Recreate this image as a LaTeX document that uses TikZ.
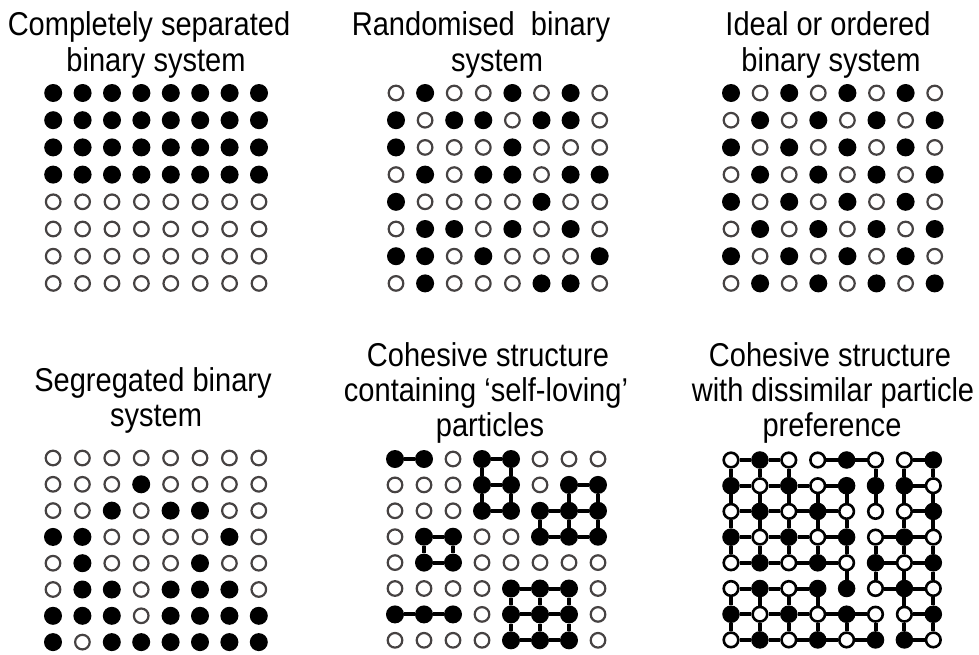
\documentclass[tikz,border=0pt]{standalone}
\usepackage{fontspec}
\setmainfont{Liberation Sans}[FakeStretch=0.88]
\definecolor{ringgray}{RGB}{70,66,66}
\tikzset{
  s1/.style={circle,fill=black,inner sep=0pt,minimum size=18pt},
  s0/.style={circle,draw=ringgray,fill=white,line width=2.2pt,inner sep=0pt,minimum size=14.6pt},
  t1/.style={circle,fill=black,draw=black,line width=1pt,inner sep=0pt,minimum size=16.5pt},
  t0/.style={circle,draw=black,fill=white,line width=2.6pt,inner sep=0pt,minimum size=14.6pt},
  bond/.style={line width=4pt,black},
  ttl/.style={anchor=base,inner sep=0pt,font=\fontsize{33}{35}\selectfont},
}
\newcommand\mygrid[7]{%
  \foreach \rowv [count=\r from 0] in {#7} {
    \foreach \v [count=\c from 0] in \rowv {
      \node[#6\v] (#1-\r-\c) at ({#2+\c*#4},{#3+\r*#5}) {};
    }
  }
}
\begin{document}
\begin{tikzpicture}[x=1pt,y=-1pt]
\useasboundingbox[fill=white] (0,0) rectangle (979,654);

% titles
\node[ttl] (ta1) at (149,35) {Completely separated};
\node[ttl] (ta2) at (156,71) {binary system};
\node[ttl] (tb1) at (481,35) {Randomised\ \ binary};
\node[ttl] (tb2) at (497,71) {system};
\node[ttl] (tc1) at (828,35) {Ideal or ordered};
\node[ttl] (tc2) at (831,71) {binary system};
\node[ttl] (td1) at (153,391) {Segregated binary};
\node[ttl] (td2) at (156,426) {system};
\node[ttl] (te1) at (488,366) {Cohesive structure};
\node[ttl] (te2) at (486,401) {containing ‘self-loving’};
\node[ttl] (te3) at (490,436) {particles};
\node[ttl] (tf1) at (830,366) {Cohesive structure};
\node[ttl] (tf2) at (833,401) {with dissimilar particle};
\node[ttl] (tf3) at (832,436) {preference};

% panel 1
\mygrid{a}{53.2}{93}{29.4}{27.2}{s}{{1,1,1,1,1,1,1,1},{1,1,1,1,1,1,1,1},{1,1,1,1,1,1,1,1},{1,1,1,1,1,1,1,1},{0,0,0,0,0,0,0,0},{0,0,0,0,0,0,0,0},{0,0,0,0,0,0,0,0},{0,0,0,0,0,0,0,0}}
% panel 2
\mygrid{b}{396}{93}{29.1}{27.2}{s}{{0,1,0,0,1,0,1,0},{1,0,1,1,0,1,1,0},{1,0,0,0,1,0,0,0},{0,1,0,1,1,0,1,1},{1,0,0,0,0,1,0,0},{0,1,1,0,1,0,1,0},{1,1,0,1,0,0,0,1},{0,1,0,0,0,1,1,0}}
% panel 3
\mygrid{c}{731}{93}{29.1}{27.2}{s}{{1,0,1,0,1,0,1,0},{0,1,0,1,0,1,0,1},{1,0,1,0,1,0,1,0},{0,1,0,1,0,1,0,1},{1,0,1,0,1,0,1,0},{0,1,0,1,0,1,0,1},{1,0,1,0,1,0,1,0},{0,1,0,1,0,1,0,1}}
% panel 4
\mygrid{d}{53}{458}{29.4}{26.3}{s}{{0,0,0,0,0,0,0,0},{0,0,0,1,0,0,0,0},{0,0,1,0,1,1,0,0},{1,1,0,0,0,0,1,0},{0,1,0,0,0,1,0,0},{0,1,1,0,1,1,1,0},{1,1,1,0,1,1,1,1},{1,0,1,1,1,1,1,1}}
% panel 5
\mygrid{e}{395}{459}{29.0}{25.9}{s}{{1,1,0,1,1,0,0,0},{0,0,0,1,1,0,1,1},{0,0,0,1,1,1,1,1},{0,1,1,0,0,1,1,1},{0,1,1,0,0,0,0,0},{0,0,0,0,1,1,1,0},{1,1,1,0,1,1,1,0},{0,0,0,0,1,1,1,0}}
\foreach \r/\c in {0/0,0/3,1/3,2/3,1/6,2/5,2/6,3/5,3/6,3/1,4/1,6/0,6/1,5/4,5/5,6/4,6/5,7/4,7/5} {
  \pgfmathtruncatemacro\cn{\c+1}
  \draw[bond] (e-\r-\c) -- (e-\r-\cn);
}
\foreach \r/\c in {0/3,1/3,0/4,1/4,2/5,1/6,2/6,1/7,2/7,3/1,3/2,5/4,6/4,5/5,6/5,5/6,6/6} {
  \pgfmathtruncatemacro\rn{\r+1}
  \draw[bond] (e-\r-\c) -- (e-\rn-\c);
}
% panel 6
\mygrid{f}{731}{460}{28.9}{25.7}{t}{{0,1,0,0,1,0,0,1},{1,0,1,0,1,1,1,0},{0,1,0,1,0,0,0,1},{1,0,1,0,1,0,1,0},{0,1,0,1,0,1,0,1},{0,1,0,1,1,0,1,0},{1,0,1,0,1,0,0,1},{0,1,0,1,0,1,1,0}}
\foreach \r/\c in {0/0,0/1,0/3,0/4,0/6,1/0,1/1,1/2,1/3,1/6,2/0,2/1,2/2,2/3,2/6,3/0,3/1,3/2,3/3,3/5,3/6,4/0,4/1,4/2,4/3,4/5,4/6,5/0,5/1,5/2,5/5,5/6,6/0,6/1,6/2,6/3,6/4,6/6,7/0,7/1,7/2,7/3,7/4,7/6} {
  \pgfmathtruncatemacro\cn{\c+1}
  \draw[bond] (f-\r-\c) -- (f-\r-\cn);
}
\foreach \r/\c in {0/0,1/0,2/0,3/0,5/0,6/0,0/1,1/1,2/1,3/1,5/1,6/1,0/2,1/2,2/2,3/2,5/2,6/2,1/3,2/3,3/3,5/3,6/3,1/4,2/4,3/4,4/4,6/4,0/5,1/5,3/5,4/5,6/5,0/6,1/6,2/6,3/6,4/6,5/6,6/6,0/7,1/7,2/7,3/7,4/7,5/7,6/7} {
  \pgfmathtruncatemacro\rn{\r+1}
  \draw[bond] (f-\r-\c) -- (f-\rn-\c);
}
\end{tikzpicture}
\end{document}
